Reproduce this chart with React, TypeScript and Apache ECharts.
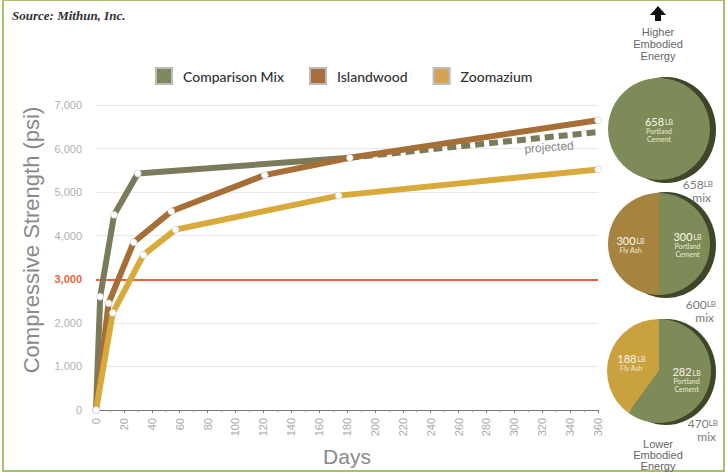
import React, { useEffect, useRef } from "react";
import * as echarts from "echarts";

// ---- data ----
const comparisonDays = [0, 3, 13, 30, 182];
const comparisonPsi = [0, 2600, 4480, 5430, 5790];
const islandwoodDays = [0, 9, 27, 54, 121, 182, 360];
const islandwoodPsi = [0, 2450, 3850, 4560, 5390, 5790, 6650];
const zoomaziumDays = [0, 12, 34, 57, 174, 360];
const zoomaziumPsi = [0, 2230, 3560, 4140, 4920, 5520];
const projectedDays = [182, 360];
const projectedPsi = [5790, 6380];
const thresholdPsi = 3000;

const seriesNames = ["Comparison Mix", "Islandwood", "Zoomazium"];
const pieNames = ["Portland Cement", "Fly Ash"];
const mix658 = [658];
const mix600 = [300, 300];
const mix470 = [282, 188];

const C_GRAY = "#7b7b5b";
const C_BROWN = "#a56f36";
const C_YELLOW = "#d8aa3c";
const C_PORTLAND = "#7d8b58";

const zip = (xs: number[], ys: number[]) => xs.map((x, i) => [x, ys[i]]);

export default function App() {
  const ref = useRef<HTMLDivElement>(null);
  useEffect(() => {
    document.body.style.margin = "0";
    const chart = echarts.init(ref.current!, null, { renderer: "svg" });
    const marker = {
      symbol: "circle",
      symbolSize: 7,
      itemStyle: { color: "#ffffff", borderColor: "#bbbbbb", borderWidth: 0.5 },
    };
    const lineSeries = (name: string, data: number[][], color: string, z: number) => ({
      type: "line",
      name,
      data,
      z,
      ...marker,
      lineStyle: { color, width: 6 },
      emphasis: { disabled: true },
    });
    const pie = (vals: number[], center: number[], radius: number, flyColor: string, single: boolean) => ({
      type: "pie",
      center,
      radius,
      startAngle: 90,
      clockwise: true,
      silent: true,
      z: 5,
      data: vals.map((v, i) => ({
        name: pieNames[i],
        value: v,
        itemStyle: { color: i === 0 ? C_PORTLAND : flyColor },
      })),
      label: {
        show: true,
        position: single ? "center" : "inside",
        formatter: (p: any) =>
          `{v|${p.value}}{lb|LB}\n{n|${p.name.length > 8 ? p.name.replace(" ", "\n") : p.name}}`,
        rich: {
          v: { fontSize: 11, color: "#f4f0e0", fontFamily: "Lato", fontWeight: 500 },
          lb: { fontSize: 7, color: "#f4f0e0", fontFamily: "Lato", padding: [2, 0, 0, 1] },
          n: { fontSize: 7, color: "#eee8d4", fontFamily: "Lato", lineHeight: 8, align: "center" },
        },
      },
      labelLine: { show: false },
    });
    const sum = (a: number[]) => a.reduce((s, v) => s + v, 0);
    const mixLabel = (total: number, x: number, y: number) => [
      {
        type: "text",
        z: 100,
        x,
        y,
        style: {
          text: `{v|${total}}{lb|LB}`,
          align: "right",
          verticalAlign: "top",
          rich: {
            v: { fontSize: 12, lineHeight: 12, fill: "#7a7a7a", fontFamily: "Lato" },
            lb: { fontSize: 8, lineHeight: 12, fill: "#7a7a7a", fontFamily: "Lato" },
          },
        },
      },
      {
        type: "text",
        z: 100,
        x: x - 2,
        y: y + 13,
        style: {
          text: "mix",
          align: "right",
          verticalAlign: "top",
          font: "12px Lato",
          fill: "#7a7a7a",
        },
      },
    ];
    const rim = (cx: number, cy: number) => ({
      type: "ellipse",
      z: 1,
      shape: { cx: cx + 7, cy: cy + 1, rx: 50, ry: 53 },
      style: { fill: "#3d4629" },
    });
    chart.setOption({
      animation: false,
      backgroundColor: "#ffffff",
      textStyle: { fontFamily: "Liberation Sans" },
      legend: {
        left: 150,
        top: 62,
        itemWidth: 16,
        itemHeight: 16,
        itemGap: 25,
        icon: "rect",
        data: [
          { name: seriesNames[0], itemStyle: { color: "#7e8a5e" } },
          { name: seriesNames[1], itemStyle: { color: "#a86e3d" } },
          { name: seriesNames[2], itemStyle: { color: "#d4a452" } },
        ],
        textStyle: { fontSize: 14, color: "#333333", fontFamily: "Lato", fontWeight: 500, padding: [0, 0, 0, 6] },
        selectedMode: false,
      },
      grid: { left: 96, right: 129, top: 105, bottom: 59 },
      xAxis: {
        type: "value",
        min: 0,
        max: 360,
        interval: 20,
        name: "Days",
        nameLocation: "middle",
        nameGap: 36,
        nameTextStyle: { fontSize: 21, color: "#8a8a8a" },
        axisLine: { lineStyle: { color: "#777777", width: 1 } },
        axisTick: { length: 3, lineStyle: { color: "#777777" } },
        minorTick: { show: true, splitNumber: 2, length: 2, lineStyle: { color: "#999999" } },
        splitLine: { show: false },
        axisLabel: { rotate: 90, fontSize: 11, color: "#aaaaaa", margin: 8 },
      },
      yAxis: {
        type: "value",
        min: 0,
        max: 7000,
        interval: 1000,
        axisLine: { show: false },
        axisTick: { show: false },
        splitLine: { lineStyle: { color: "#e8e8e8" } },
        axisLabel: {
          margin: 14,
          fontSize: 11,
          color: "#b0b0b0",
          formatter: (v: number) => {
            const s = v.toLocaleString("en-US");
            return v === thresholdPsi ? `{hl|${s}}` : s;
          },
          rich: { hl: { color: "#e8643a", fontWeight: "bold", fontSize: 11 } },
        },
      },
      series: [
        {
          ...lineSeries(seriesNames[0], zip(comparisonDays, comparisonPsi), C_GRAY, 2),
          markLine: {
            silent: true,
            symbol: "none",
            label: { show: false },
            lineStyle: { color: "#e8623a", width: 2, type: "solid" },
            data: [{ yAxis: thresholdPsi }],
            z: 1,
          },
        },
        {
          type: "line",
          name: "projected",
          data: zip(projectedDays, projectedPsi),
          z: 2,
          symbol: "none",
          lineStyle: { color: C_GRAY, width: 6, type: [9, 5] },
          emphasis: { disabled: true },
        },
        lineSeries(seriesNames[1], zip(islandwoodDays, islandwoodPsi), C_BROWN, 3),
        lineSeries(seriesNames[2], zip(zoomaziumDays, zoomaziumPsi), C_YELLOW, 4),
        pie(mix658, [659, 129], 51, C_PORTLAND, true),
        pie(mix600, [659, 244], 51, "#a6843f", false),
        pie(mix470, [659, 371], 52, "#c9a23f", false),
      ],
      graphic: [
        {
          type: "rect",
          z: 0,
          shape: { x: 3, y: 0, width: 721, height: 471 },
          style: { fill: "none", stroke: "#a8bf6c", lineWidth: 2 },
        },
        {
          type: "text",
          z: 100,
          x: 12,
          y: 9,
          style: {
            text: "Source: Mithun, Inc.",
            font: "italic bold 13px 'Liberation Serif'",
            fill: "#333333",
          },
        },
        {
          type: "text",
          z: 100,
          x: 31,
          y: 240,
          rotation: Math.PI / 2,
          style: {
            text: "Compressive Strength (psi)",
            align: "center",
            verticalAlign: "middle",
            font: "22px 'Liberation Sans'",
            fill: "#8a8a8a",
          },
        },
        {
          type: "text",
          z: 100,
          x: 524,
          y: 143,
          rotation: 0.07,
          style: { text: "projected", font: "12px 'Liberation Sans'", fill: "#8a8a8a" },
        },
        {
          type: "polygon",
          z: 100,
          shape: { points: [[650, 15], [658, 6], [666, 15], [661, 15], [661, 21], [655, 21], [655, 15]] },
          style: { fill: "#111111" },
        },
        {
          type: "text",
          z: 100,
          x: 658,
          y: 26,
          style: {
            text: "Higher\nEmbodied\nEnergy",
            align: "center",
            font: "11px 'Liberation Sans'",
            lineHeight: 12,
            fill: "#666666",
          },
        },
        {
          type: "text",
          z: 100,
          x: 658,
          y: 438,
          style: {
            text: "Lower\nEmbodied\nEnergy",
            align: "center",
            font: "11px 'Liberation Sans'",
            lineHeight: 11,
            fill: "#666666",
          },
        },
        rim(659, 129),
        rim(659, 244),
        rim(659, 371),
        ...mixLabel(sum(mix658), 713, 178),
        ...mixLabel(sum(mix600), 716, 298),
        ...mixLabel(sum(mix470), 718, 417),
      ],
    });
    return () => chart.dispose();
  }, []);
  return (
    <div
      ref={ref}
      style={{ position: "fixed", left: 0, top: 0, width: 727, height: 472 }}
    />
  );
}
